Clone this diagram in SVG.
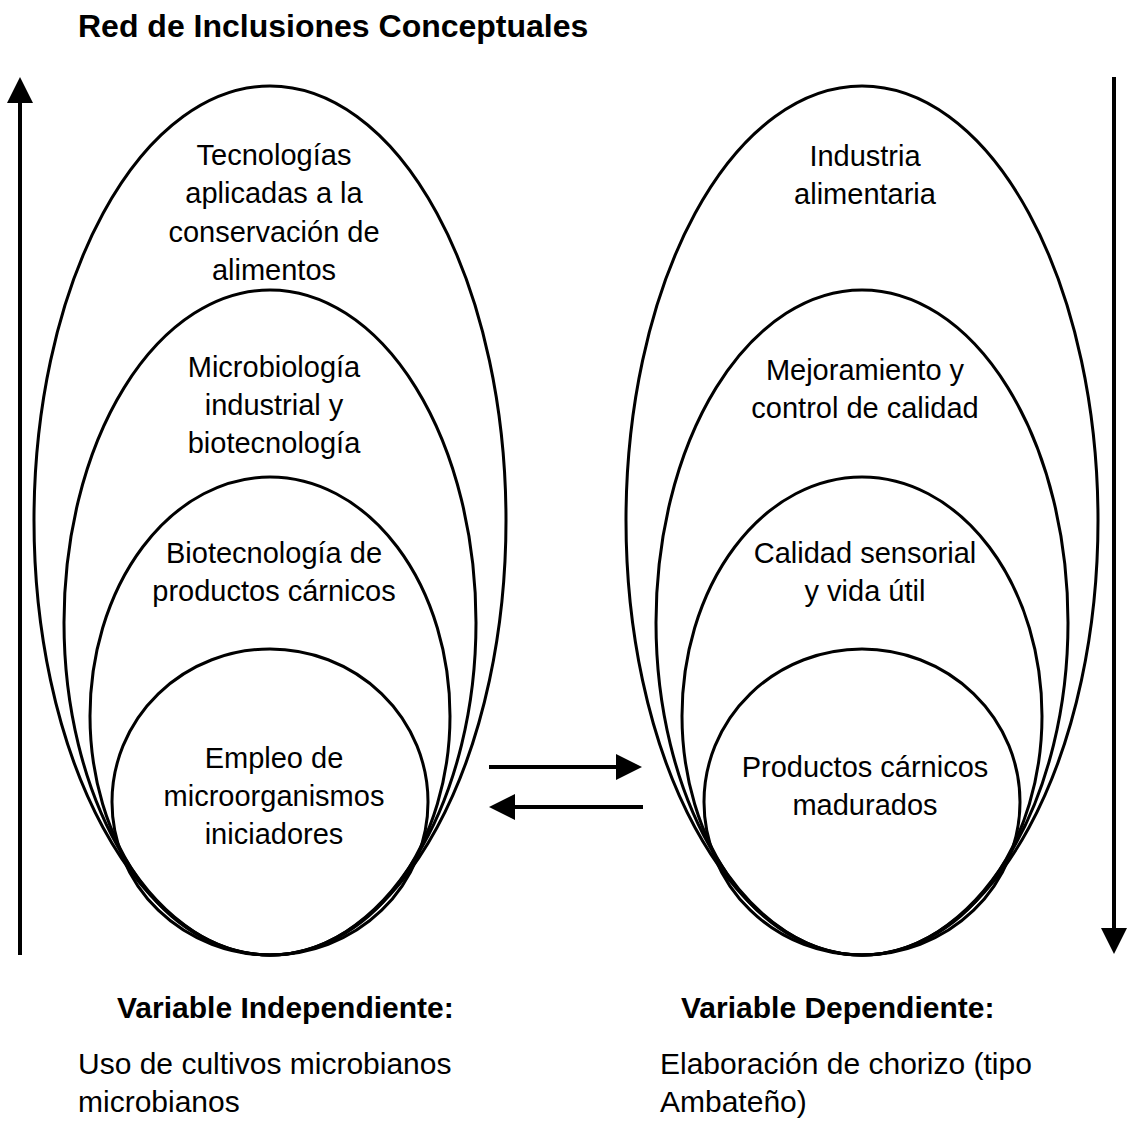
<svg xmlns="http://www.w3.org/2000/svg" width="1128" height="1124" viewBox="0 0 1128 1124">
<style>
.e{fill:none;stroke:#000;stroke-width:3}
.t{font-family:"Liberation Sans",Arial,sans-serif;font-size:29px;fill:#000;text-anchor:middle}
.b{font-family:"Liberation Sans",Arial,sans-serif;font-size:30px;font-weight:bold;fill:#000}
.r{font-family:"Liberation Sans",Arial,sans-serif;font-size:30px;fill:#000}
.c{fill:none;stroke:#000;stroke-width:4}
</style>
<defs>
<marker id="ah" markerUnits="userSpaceOnUse" markerWidth="26" markerHeight="26" viewBox="0 0 26 26" refX="0" refY="13" orient="auto">
<path d="M0,0 L26,13 L0,26 Z" fill="#000"/>
</marker>
</defs>
<rect width="1128" height="1124" fill="#fff"/>
<text id="title" class="b" x="78" y="37" style="font-size:32px">Red de Inclusiones Conceptuales</text>

<g id="n-tecnologias">
<ellipse class="e" cx="270" cy="520.5" rx="236" ry="434.5"/>
<text class="t" x="274" y="165">Tecnologías</text>
<text class="t" x="274" y="203">aplicadas a la</text>
<text class="t" x="274" y="242">conservación de</text>
<text class="t" x="274" y="280">alimentos</text>
</g>
<g id="n-microbiologia">
<ellipse class="e" cx="270" cy="622.5" rx="206" ry="332.5"/>
<text class="t" x="274" y="377">Microbiología</text>
<text class="t" x="274" y="415">industrial y</text>
<text class="t" x="274" y="453">biotecnología</text>
</g>
<g id="n-biotecnologia">
<ellipse class="e" cx="270" cy="716" rx="180" ry="239"/>
<text class="t" x="274" y="563">Biotecnología de</text>
<text class="t" x="274" y="601">productos cárnicos</text>
</g>
<g id="n-empleo">
<ellipse class="e" cx="270" cy="802" rx="158" ry="153"/>
<text class="t" x="274" y="768">Empleo de</text>
<text class="t" x="274" y="806">microorganismos</text>
<text class="t" x="274" y="844">iniciadores</text>
</g>

<g id="n-industria">
<ellipse class="e" cx="862" cy="520.5" rx="236" ry="434.5"/>
<text class="t" x="865" y="166">Industria</text>
<text class="t" x="865" y="204">alimentaria</text>
</g>
<g id="n-mejoramiento">
<ellipse class="e" cx="862" cy="622.5" rx="206" ry="332.5"/>
<text class="t" x="865" y="380">Mejoramiento y</text>
<text class="t" x="865" y="418">control de calidad</text>
</g>
<g id="n-calidad">
<ellipse class="e" cx="862" cy="716" rx="180" ry="239"/>
<text class="t" x="865" y="563">Calidad sensorial</text>
<text class="t" x="865" y="601">y vida útil</text>
</g>
<g id="n-productos">
<ellipse class="e" cx="862" cy="802" rx="158" ry="153"/>
<text class="t" x="865" y="777">Productos cárnicos</text>
<text class="t" x="865" y="815">madurados</text>
</g>

<g id="connectors">
<path class="c" d="M20,955 L20,103" marker-end="url(#ah)"/>
<path class="c" d="M1114,77 L1114,928" marker-end="url(#ah)"/>
<path class="c" d="M489,767 L616,767" marker-end="url(#ah)"/>
<path class="c" d="M643,807 L515,807" marker-end="url(#ah)"/>
</g>

<g id="labels">
<text class="b" x="117" y="1018">Variable Independiente:</text>
<text class="b" x="681" y="1018">Variable Dependiente:</text>
<text class="r" x="78" y="1074">Uso de cultivos microbianos</text>
<text class="r" x="78" y="1112">microbianos</text>
<text class="r" x="660" y="1074">Elaboración de chorizo (tipo</text>
<text class="r" x="660" y="1112">Ambateño)</text>
</g>
</svg>
